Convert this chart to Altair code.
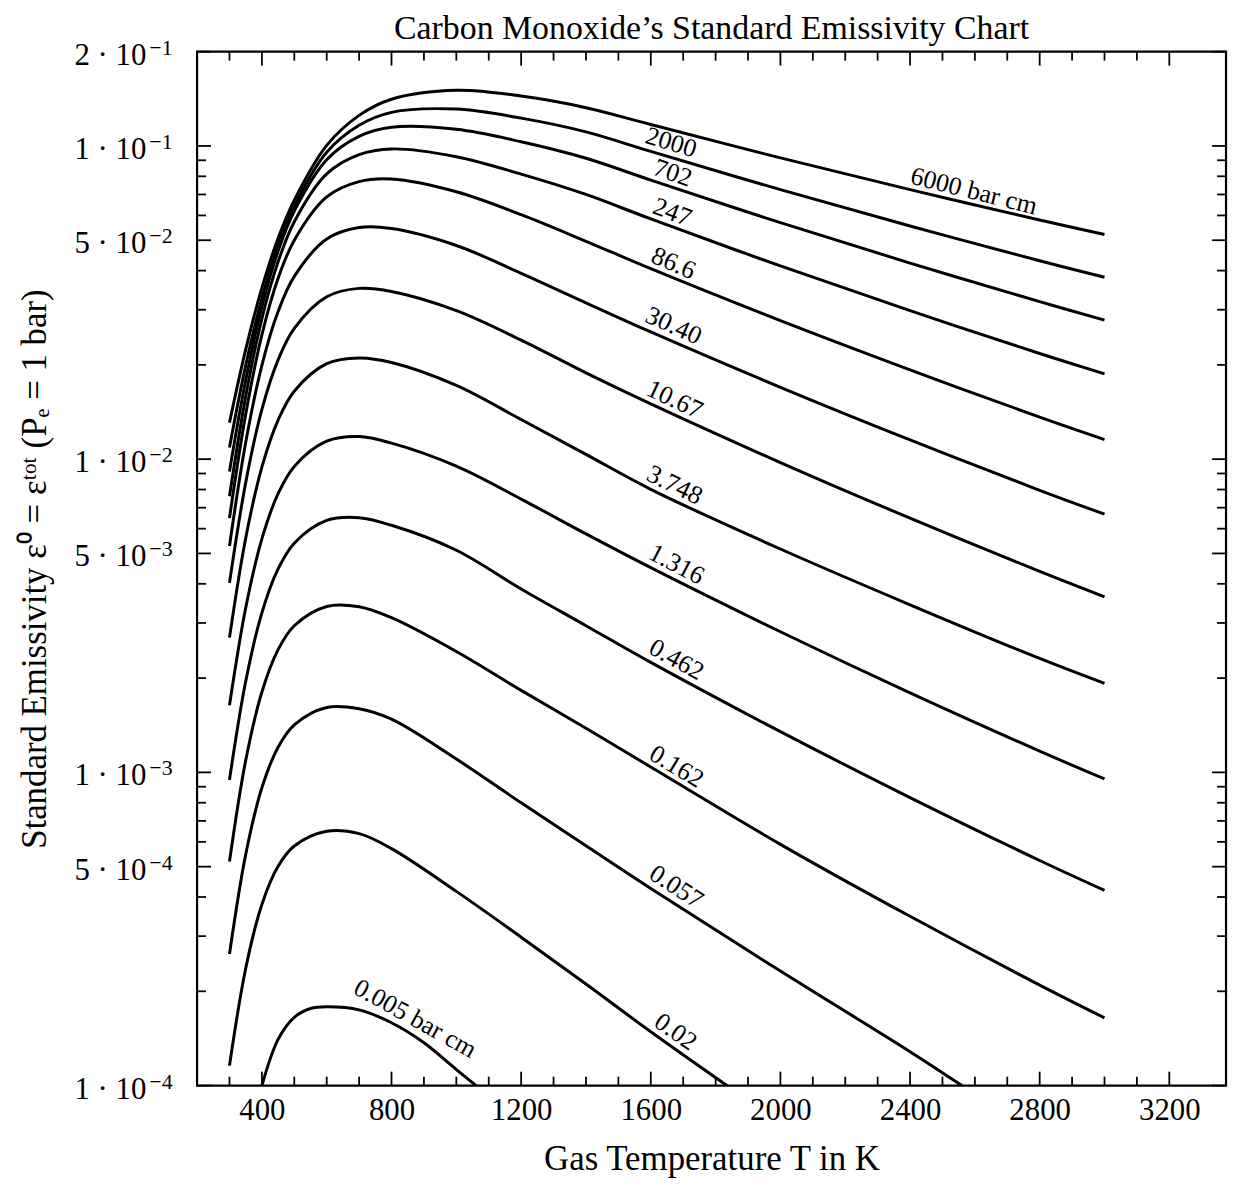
import altair as alt
import pandas as pd

FONT = "Liberation Serif"
W, H = 1034, 1039

# ---------------- data ----------------
TITLE = "Carbon Monoxide’s Standard Emissivity Chart"

T_GRID = [300, 350, 400, 450, 500, 600, 700, 800, 1000, 1200, 1400, 1600, 2000, 2400, 2800, 3000]

eps_6000 = [0.01308, 0.02238, 0.03521, 0.05068, 0.06711, 0.1004, 0.1252, 0.1410, 0.1506, 0.1443, 0.1325, 0.1171, 0.09161, 0.07254, 0.05802, 0.05215]
eps_2000 = [0.01090, 0.01991, 0.03261, 0.04811, 0.06424, 0.09543, 0.1164, 0.1280, 0.1311, 0.1227, 0.1109, 0.09605, 0.07254, 0.05553, 0.04298, 0.03807]
eps_702 = [0.009140, 0.01786, 0.03067, 0.04618, 0.06197, 0.09040, 0.1073, 0.1147, 0.1130, 0.1031, 0.09133, 0.07780, 0.05689, 0.04227, 0.03183, 0.02779]
eps_247 = [0.007612, 0.01585, 0.02812, 0.04267, 0.05730, 0.08147, 0.09384, 0.09784, 0.09240, 0.08130, 0.07002, 0.05849, 0.04139, 0.02979, 0.02175, 0.01872]
eps_86_6 = [0.006481, 0.01390, 0.02493, 0.03779, 0.05002, 0.06876, 0.07694, 0.07845, 0.07143, 0.06035, 0.04962, 0.04055, 0.02769, 0.01928, 0.01362, 0.01155]
eps_30_40 = [0.005281, 0.01130, 0.01994, 0.02959, 0.03832, 0.05042, 0.05488, 0.05449, 0.04811, 0.03920, 0.03156, 0.02547, 0.01696, 0.01152, 0.007954, 0.006673]
eps_10_67 = [0.004027, 0.008408, 0.01441, 0.02075, 0.02615, 0.03299, 0.03510, 0.03430, 0.02980, 0.02400, 0.01886, 0.01501, 0.009754, 0.006481, 0.004382, 0.003635]
eps_3_748 = [0.002693, 0.005594, 0.009432, 0.01333, 0.01648, 0.02017, 0.02105, 0.02035, 0.01720, 0.01338, 0.01036, 0.008011, 0.005166, 0.003428, 0.002310, 0.001923]
eps_1_316 = [0.001637, 0.003348, 0.005566, 0.007758, 0.009480, 0.01141, 0.01181, 0.01125, 0.009500, 0.007455, 0.005773, 0.004504, 0.002812, 0.001794, 0.001169, 0.0009528]
eps_0_462 = [0.0009461, 0.001950, 0.003231, 0.004462, 0.005392, 0.006372, 0.006504, 0.006150, 0.005120, 0.003850, 0.002940, 0.002244, 0.001349, 0.0008310, 0.0005231, 0.0004199]
eps_0_162 = [0.0005192, 0.001091, 0.001805, 0.002465, 0.002938, 0.003386, 0.003379, 0.003117, 0.002431, 0.001827, 0.001384, 0.001040, 0.0005892, 0.0003471, 0.0002094, 0.0001646]

T_0_057 = [300, 350, 400, 450, 500, 600, 700, 800, 1000, 1200, 1400, 1600, 2000, 2400, 2560]
eps_0_057 = [0.0002630, 0.0005464, 0.0008929, 0.001203, 0.001418, 0.001611, 0.001596, 0.001478, 0.001103, 0.0007994, 0.0005835, 0.0004262, 0.0002321, 0.0001283, 0.0001]

T_0_02 = [300, 350, 400, 450, 500, 600, 700, 800, 1000, 1200, 1400, 1600, 1835]
eps_0_02 = [0.0001158, 0.0002366, 0.0003788, 0.0005012, 0.0005819, 0.0006486, 0.0006372, 0.0005709, 0.0004169, 0.0002977, 0.0002111, 0.0001485, 0.0001]

T_0_005 = [400, 450, 500, 550, 600, 700, 800, 900, 1000, 1061]
eps_0_005 = [0.0001, 0.0001405, 0.0001652, 0.0001762, 0.0001784, 0.0001745, 0.0001587, 0.0001370, 0.0001125, 0.0001]

curves = [
    ("6000", T_GRID, eps_6000), ("2000", T_GRID, eps_2000), ("702", T_GRID, eps_702),
    ("247", T_GRID, eps_247), ("86.6", T_GRID, eps_86_6), ("30.40", T_GRID, eps_30_40),
    ("10.67", T_GRID, eps_10_67), ("3.748", T_GRID, eps_3_748), ("1.316", T_GRID, eps_1_316),
    ("0.462", T_GRID, eps_0_462), ("0.162", T_GRID, eps_0_162), ("0.057", T_0_057, eps_0_057),
    ("0.02", T_0_02, eps_0_02), ("0.005", T_0_005, eps_0_005),
]

# curve labels
label_text = ["6000 bar cm", "2000", "702", "247", "86.6", "30.40", "10.67", "3.748",
              "1.316", "0.462", "0.162", "0.057", "0.02", "0.005 bar cm"]
label_T = [2393, 1574, 1597, 1595, 1589, 1571, 1574, 1574, 1580, 1580, 1580, 1580, 1595, 669]
label_eps = [0.07279, 0.0982, 0.07791, 0.05870, 0.04099, 0.02646, 0.01545, 0.008273,
             0.004649, 0.002323, 0.001067, 0.0004443, 0.0001501, 0.0001905]
label_angle = [14, 17, 19, 21, 23, 24, 25, 26, 27.5, 29, 31, 33, 35, 29]

# axes ticks / labels
x_major = [400, 800, 1200, 1600, 2000, 2400, 2800, 3200]
x_minor = [300, 500, 600, 700, 900, 1000, 1100, 1300, 1400, 1500, 1700, 1800, 1900,
           2100, 2200, 2300, 2500, 2600, 2700, 2900, 3000, 3100]
y_major = [1e-4, 5e-4, 1e-3, 5e-3, 1e-2, 5e-2, 1e-1, 2e-1]
y_label_mantissa = ["1 · 10", "5 · 10", "1 · 10", "5 · 10", "1 · 10", "5 · 10", "1 · 10", "2 · 10"]
y_label_exponent = ["−4", "−4", "−3", "−3", "−2", "−2", "−1", "−1"]
minor_mantissa = [2, 3, 4, 6, 7, 8, 9]
decades = [1e-4, 1e-3, 1e-2, 1e-1]
y_minor = [m * d for d in decades for m in minor_mantissa if m * d < 0.2]

# ---------------- chart ----------------
rows = []
for name, ts, es in curves:
    for t, e in zip(ts, es):
        rows.append({"pL": name, "T": t, "eps": e})
df = pd.DataFrame(rows)

x_scale = alt.Scale(domain=[200, 3375], nice=False, zero=False)
y_scale = alt.Scale(type="log", domain=[1e-4, 0.2], nice=False)

lines = alt.Chart(df).mark_line(
    color="black", strokeWidth=3, interpolate="catmull-rom", clip=True
).encode(
    x=alt.X("T:Q", scale=x_scale,
            axis=alt.Axis(values=x_major, format="d", title="Gas Temperature  T  in K",
                          labelFontSize=31, titleFontSize=35, labelPadding=10,
                          titleY=73, titleBaseline="middle",
                          labelFlush=False, labelOverlap=False)),
    y=alt.Y("eps:Q", scale=y_scale,
            axis=alt.Axis(values=y_major, labels=False,
                          title="Standard Emissivity  ε⁰ = εᵗᵒᵗ (Pₑ = 1 bar)",
                          titleFontSize=35, titleX=-163, titleY=H / 2,
                          titleAngle=270, titleAlign="center", titleBaseline="middle")),
    detail="pL:N",
)

lab_df = pd.DataFrame({"text": label_text, "T": label_T, "eps": label_eps, "angle": label_angle})
labels = alt.Chart(lab_df).mark_text(
    font=FONT, fontSize=26, align="left", baseline="bottom", dy=-1, color="black"
).encode(
    x=alt.X("T:Q", scale=x_scale),
    y=alt.Y("eps:Q", scale=y_scale),
    text="text:N",
    angle=alt.Angle("angle:Q", scale=None),
)

ylab_df = pd.DataFrame({"eps": y_major, "mant": y_label_mantissa, "expo": y_label_exponent})
ylab_main = alt.Chart(ylab_df).mark_text(
    font=FONT, fontSize=31, align="right", baseline="alphabetic", dy=13, color="black"
).encode(y=alt.Y("eps:Q", scale=y_scale), x=alt.value(-51), text="mant:N")
ylab_exp = alt.Chart(ylab_df).mark_text(
    font=FONT, fontSize=22, align="left", baseline="alphabetic", dy=3, color="black"
).encode(y=alt.Y("eps:Q", scale=y_scale), x=alt.value(-48), text="expo:N")

# chart title (drawn as a text mark centred over the plot)
title_mark = alt.Chart(pd.DataFrame({"title": [TITLE]})).mark_text(
    font=FONT, fontSize=34, align="center", baseline="alphabetic", color="black"
).encode(x=alt.value(W / 2), y=alt.value(-13), text="title:N")


def xticks(vals, length):
    d = pd.DataFrame({"T": vals})
    base = alt.Chart(d).mark_rule(color="black", strokeWidth=1.8)
    bottom = base.encode(x=alt.X("T:Q", scale=x_scale),
                         y=alt.value(H), y2=alt.value(H - length))
    top = base.encode(x=alt.X("T:Q", scale=x_scale),
                      y=alt.value(0), y2=alt.value(length))
    return [bottom, top]


def yticks(vals, length):
    d = pd.DataFrame({"eps": vals})
    base = alt.Chart(d).mark_rule(color="black", strokeWidth=1.8)
    left = base.encode(y=alt.Y("eps:Q", scale=y_scale),
                       x=alt.value(0), x2=alt.value(length))
    right = base.encode(y=alt.Y("eps:Q", scale=y_scale),
                        x=alt.value(W), x2=alt.value(W - length))
    return [left, right]


tick_layers = xticks(x_major, 14) + xticks(x_minor, 9) + yticks(y_major, 14) + yticks(y_minor, 9)

chart = alt.layer(lines, labels, ylab_main, ylab_exp, title_mark, *tick_layers).properties(
    width=W, height=H,
    autosize=alt.AutoSizeParams(type="none"),
    padding={"left": 190, "top": 41, "right": 5, "bottom": 92},
).configure_view(
    stroke="black", strokeWidth=2.2
).configure_axis(
    grid=False, domain=False, ticks=False, tickSize=0,
    labelFont=FONT, titleFont=FONT, labelColor="black", titleColor="black",
    titleFontWeight="normal"
)

chart.save("out.html", embed_options={"renderer": "svg", "actions": False})
